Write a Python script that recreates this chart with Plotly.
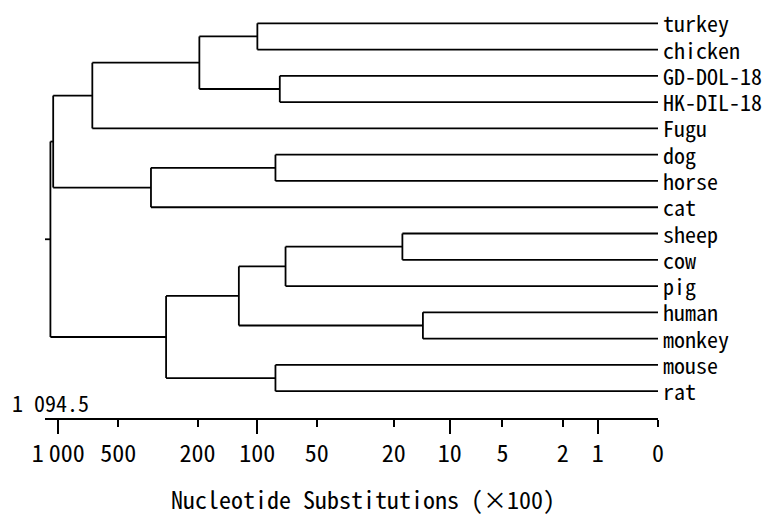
import math
import plotly.graph_objects as go

# ---- data ----
leaves = ["turkey", "chicken", "GD-DOL-18", "HK-DIL-18", "Fugu", "dog", "horse", "cat",
          "sheep", "cow", "pig", "human", "monkey", "mouse", "rat"]

# internal nodes: name, left child, right child, height (nucleotide substitutions x100)
node_names = ["n0", "n1", "n2", "n3", "n4", "n5", "n6", "n7", "n8", "n9", "n10", "n11", "n12", "root"]
node_left = ["turkey", "GD-DOL-18", "n0", "n2", "dog", "n4", "n3", "sheep", "n7", "human", "n8", "mouse", "n10", "n6"]
node_right = ["chicken", "HK-DIL-18", "n1", "Fugu", "horse", "cat", "n5", "cow", "pig", "monkey", "n9", "rat", "n11", "n12"]
node_height = [100, 77, 196, 675, 81, 343, 1060, 18, 72, 14, 124, 81, 288, 1094.5]

root_branch_end = 1165

tick_values = [1000, 500, 200, 100, 50, 20, 10, 5, 2, 1, 0]
tick_labels = ["1\u2009000", "500", "200", "100", "50", "20", "10", "5", "2", "1", "0"]
long_tick_values = [1000, 100, 10, 1]

root_label = "1 094.5"
axis_title = "Nucleotide Substitutions (×100)"

FONT = "Noto Sans Mono CJK SC, Liberation Mono, monospace"

# ---- tree geometry ----
ypos = {name: i for i, name in enumerate(leaves)}
hpos = {name: 0.0 for name in leaves}
xs, ys = [], []
for name, a, b, h in zip(node_names, node_left, node_right, node_height):
    ya, yb = ypos[a], ypos[b]
    ypos[name] = (ya + yb) / 2
    hpos[name] = h
    # vertical connector
    xs += [h + 1, h + 1, None]
    ys += [ya, yb, None]
    # horizontal branches to children
    xs += [h + 1, hpos[a] + 1, None]
    ys += [ya, ya, None]
    xs += [h + 1, hpos[b] + 1, None]
    ys += [yb, yb, None]

# root stub
xs += [node_height[-1] + 1, root_branch_end + 1, None]
ys += [ypos["root"], ypos["root"], None]

fig = go.Figure()
fig.add_trace(go.Scatter(x=xs, y=ys, mode="lines",
                         line=dict(color="black", width=1.8),
                         hoverinfo="skip", showlegend=False))

# invisible trace for the long-tick overlay axis
fig.add_trace(go.Scatter(x=[v + 1 for v in long_tick_values], y=[0] * len(long_tick_values),
                         xaxis="x2", mode="markers", marker=dict(opacity=0),
                         showlegend=False, hoverinfo="skip"))

xrange = [math.log10(root_branch_end + 1), 0]

annotations = [
    dict(text=name, x=0, xref="x", y=i, yref="y", xanchor="left", yanchor="middle",
         xshift=4, yshift=1, showarrow=False, borderpad=0,
         font=dict(family=FONT, size=22, color="black"))
    for i, name in enumerate(leaves)
]
annotations += [
    dict(text=root_label, x=math.log10(node_height[-1] + 1), xref="x",
         y=(418.3 - 402.5) / 408.3, yref="paper", xanchor="center", yanchor="middle",
         showarrow=False, font=dict(family=FONT, size=22, color="black")),
    dict(text=axis_title, x=(363.5 - 45) / 613.3, xref="paper",
         y=(418.3 - 499) / 408.3, yref="paper", xanchor="center", yanchor="middle",
         showarrow=False, font=dict(family=FONT, size=24, color="black")),
]

fig.update_layout(
    width=780, height=518,
    margin=dict(l=45, r=122, t=10, b=100),
    paper_bgcolor="white", plot_bgcolor="white",
    hovermode=False,
    xaxis=dict(type="log", range=xrange,
               tickmode="array", tickvals=[v + 1 for v in tick_values], ticktext=tick_labels,
               ticks="outside", ticklen=7, tickwidth=1.5, tickcolor="black",
               showline=True, linecolor="black", linewidth=1.5,
               showgrid=False, zeroline=False,
               tickfont=dict(family=FONT, size=24, color="black"),
               ticklabelstandoff=6),
    xaxis2=dict(type="log", range=xrange, overlaying="x", anchor="y", side="bottom",
                tickmode="array", tickvals=[v + 1 for v in long_tick_values],
                ticks="outside", ticklen=15, tickwidth=1.5, tickcolor="black",
                showticklabels=False, showline=False, showgrid=False, zeroline=False),
    yaxis=dict(range=[15.02, -0.506], visible=False, showgrid=False, zeroline=False),
    annotations=annotations,
)

fig.write_html("out.html", config={"displayModeBar": False},
               post_script="document.body.style.margin='0';")
